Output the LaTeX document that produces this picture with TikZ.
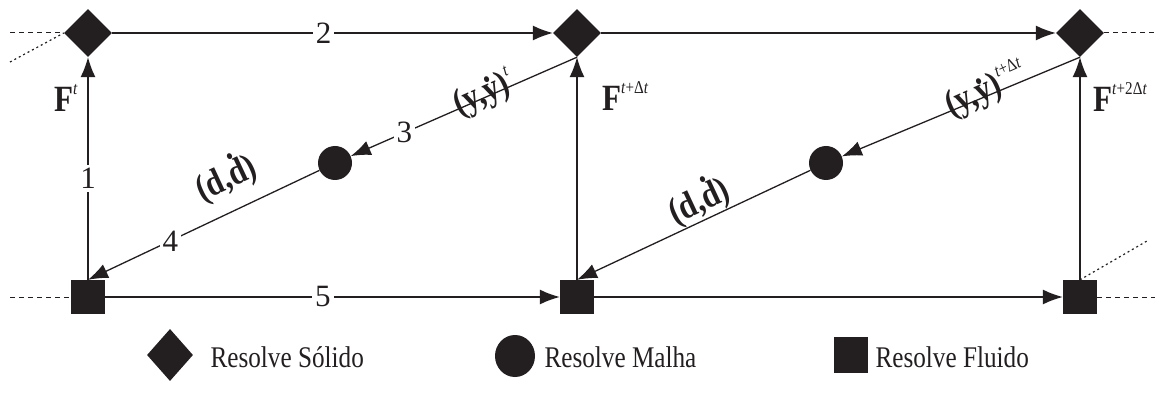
\documentclass[tikz,border=0pt]{standalone}
\usepackage{fontspec}
\setmainfont{Liberation Serif}
\newfontfamily\condfont[FakeStretch=0.84]{Liberation Serif}
\usetikzlibrary{shapes.geometric,arrows.meta}
\definecolor{ink}{HTML}{231F20}
\newcommand\sx[1]{\raisebox{17pt}{\fontsize{18}{18}\selectfont\mdseries\upshape #1}}
\newcommand\dt[2]{\ooalign{#1\cr\hidewidth\raisebox{#2}{.}\hidewidth}}
\begin{document}
\begin{tikzpicture}[x=1pt,y=-1pt,
  sol/.style={diamond, fill=ink, inner sep=0pt, minimum size=48pt},
  msh/.style={circle, fill=ink, inner sep=0pt, minimum size=34pt},
  flu/.style={rectangle, fill=ink, inner sep=0pt, minimum size=34pt},
  conn/.style={line width=1.3pt, draw=ink, -{Latex[length=20pt,width=15pt]}},
  num/.style={fill=white, inner sep=3pt, text=ink, font=\fontsize{31}{31}\selectfont},
  lbl/.style={text=ink, font=\condfont\fontsize{37}{37}\selectfont\bfseries},
  leg/.style={text=ink, anchor=base west, font=\condfont\fontsize{30}{30}\selectfont},
  dashstub/.style={line width=1pt, draw=ink, dash pattern=on 5pt off 4pt},
  dotstub/.style={line width=1.2pt, draw=ink, dash pattern=on 2pt off 3pt}]
\useasboundingbox (0,0) rectangle (1166,403);
% main nodes
\node[sol] (S1) at (88,33) {};
\node[sol] (S2) at (577,33) {};
\node[sol] (S3) at (1080,33) {};
\node[msh] (M1) at (335,163) {};
\node[msh] (M2) at (826,163) {};
\node[flu] (F1) at (88,297) {};
\node[flu] (F2) at (577,297) {};
\node[flu] (F3) at (1080,297) {};
% free ends
\coordinate (a1) at (10,33);
\coordinate (a2) at (10,62);
\coordinate (a3) at (10,297);
\coordinate (a4) at (1155,33);
\coordinate (a5) at (1155,297);
\coordinate (a6) at (1147,241);
\draw[dashstub] (a1) -- (S1.west);
\draw[dotstub] (a2) -- (S1.west);
\draw[dashstub] (a3) -- (F1.west);
\draw[dashstub] (S3.east) -- (a4);
\draw[dashstub] (F3.east) -- (a5);
\draw[dotstub] (F3.north) -- (a6);
% connectors
\draw[conn] (F1.north) -- node[num, pos=0.455] {1} (S1.south);
\draw[conn] (S1.east) -- node[num, pos=0.48] {2} (S2.west);
\draw[conn] (S2.south) -- node[num, pos=0.763] {3} (M1);
\draw[conn] (M1) -- node[num, pos=0.644] {4} (F1.north);
\draw[conn] (F1.east) -- node[num, pos=0.479] {5} (F2.west);
\draw[conn] (F2.north) -- (S2.south);
\draw[conn] (S2.east) -- (S3.west);
\draw[conn] (S3.south) -- (M2);
\draw[conn] (M2) -- (F2.north);
\draw[conn] (F2.east) -- (F3.west);
\draw[conn] (F3.north) -- (S3.south);
% labels
\node[lbl, anchor=base west, inner sep=0pt] (Ft) at (54,112) {F\sx{\textit{t}}};
\node[lbl, anchor=base west, inner sep=0pt] (Ft2) at (602,111) {F\sx{\textit{t}+Δ\textit{t}}};
\node[lbl, anchor=base west, inner sep=0pt] (Ft3) at (1093,112) {F\sx{\textit{t}+2Δ\textit{t}}};
\node[lbl, rotate=24] (Y1) at (484,94) {(y,\dt{y}{0.5em})\sx{\textit{t}}};
\node[lbl, rotate=25] (D1) at (227,180) {(d,\dt{d}{0.72em})};
\node[lbl, rotate=24] (Y2) at (986,90) {(y,\dt{y}{0.5em})\sx{\textit{t}+Δ\textit{t}}};
\node[lbl, rotate=25] (D2) at (700,203) {(d,\dt{d}{0.72em})};
% legend
\node[diamond, fill=ink, inner sep=0pt, minimum width=46pt, minimum height=52pt] (LS) at (170,355) {};
\node[leg] (LSt) at (207,367) {Resolve Sólido};
\node[ellipse, fill=ink, inner sep=0pt, minimum width=40pt, minimum height=42pt] (LM) at (515,356) {};
\node[leg] (LMt) at (541,367) {Resolve Malha};
\node[rectangle, fill=ink, inner sep=0pt, minimum width=34pt, minimum height=36pt] (LF) at (851,355) {};
\node[leg] (LFt) at (872,367) {Resolve Fluido};
\end{tikzpicture}
\end{document}
